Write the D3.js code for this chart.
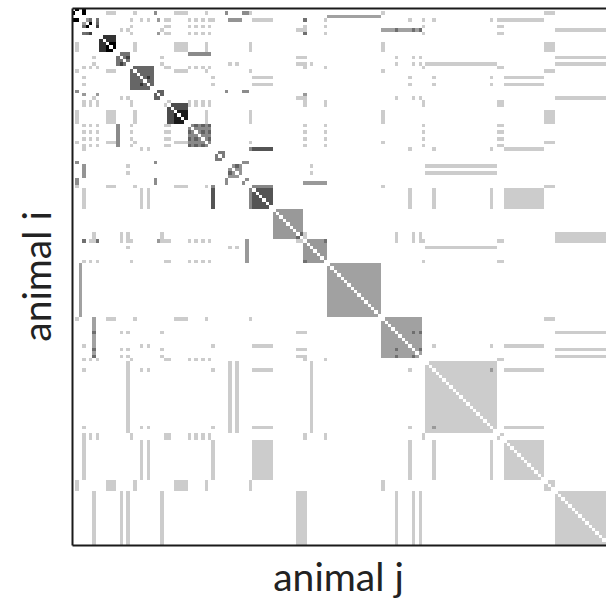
<!DOCTYPE html>
<html>
<head>
  <meta charset="utf-8">
  <title>Animal association matrix</title>
  <script src="https://d3js.org/d3.v7.min.js"></script>
  <style>
    body { margin: 0; background: #fff; }
    .label { font-family: Lato, "Open Sans", sans-serif; font-size: 39px; fill: #222; }
    .frame path { stroke: #1a1a1a; stroke-width: 2px; }
    .cell { shape-rendering: crispEdges; }
  </style>
</head>
<body>
  <div id="chart"></div>
  <script>
    // number of animals (rows = animal i, columns = animal j)
    const nAnimals = 158;

    // groups of animals: members ([a, b] means animals a..b)
    // a pair sharing a group gets that group's weight (weights add up)
    const groupZ = [0, 1, 3];
    const groupW = [3, 4, 5];
    const groupV = [4, 5, 7];
    const groupB = [[8, 12]];
    const groupC = [[13, 16]];
    const groupD = [[17, 23]];
    const groupE = [24, 25, 26];
    const groupF = [[28, 33]];
    const groupG = [13, [34, 40]];
    const groupH = [42, 43, 44];
    const groupI = [3, [46, 49]];
    const groupJ = [41, [52, 58]];
    const groupK = [[59, 67]];
    const groupL = [51, [68, 74]];
    const groupM = [2, [75, 90]];
    const groupN = [6, [91, 102]];
    const groupO = [16, 46, 48, 70, [104, 124]];
    const groupP = [3, 20, 22, 41, [53, 58], 99, 106, 123, [127, 138]];
    const groupQ = [1, [10, 12], 18, [30, 33], 39, 52, 91, [139, 141]];
    const groupR = [6, 14, 16, 26, 66, 67, 68, 95, 100, 102, [142, 157]];
    const groupS = [1, 24, 45, 50, 51];
    const groupT = [3, 5, 7, 17, 27, 28, 34, 36, 38, 40, 68, 74, 103, 125, 126];
    const groupU = [3, 7, 25, 68];

    const groupList = [groupZ, groupW, groupV, groupB, groupC, groupD, groupE, groupF, groupG,
      groupH, groupI, groupJ, groupK, groupL, groupM, groupN, groupO, groupP, groupQ,
      groupR, groupS, groupT, groupU];
    const groupWeights = [1.0, 0.4, 0.6, 0.8, 0.55, 0.6, 0.62, 0.7, 0.46,
      0.52, 0.42, 0.47, 0.4, 0.4, 0.37, 0.37, 0.2, 0.2, 0.2,
      0.2, 0.45, 0.16, 0.4];

    const expand = g => g.flatMap(m => Array.isArray(m) ? d3.range(m[0], m[1] + 1) : [m]);

    // build the association matrix
    const matrix = d3.range(nAnimals).map(() => new Array(nAnimals).fill(0));
    groupList.forEach(function(g, k) {
      const ids = expand(g);
      ids.forEach(function(a) {
        ids.forEach(function(b) {
          if (a !== b) matrix[a][b] += groupWeights[k];
        });
      });
    });

    const cells = [];
    matrix.forEach(function(row, i) {
      row.forEach(function(v, j) {
        if (v > 0) cells.push({ i: i, j: j, v: Math.min(Math.max(v, 0.2), 1) });
      });
    });

    // chart dimensions
    const margin = { top: 8, left: 72 };
    const size = 537;

    const svg = d3.select("#chart")
      .append("svg")
      .attr("width", 606)
      .attr("height", 600);

    const g = svg.append("g")
      .attr("transform", "translate(" + margin.left + "," + margin.top + ")");

    const x = d3.scaleBand().domain(d3.range(nAnimals)).range([0, size]);
    const y = d3.scaleBand().domain(d3.range(nAnimals)).range([0, size]);
    const color = d3.scaleLinear().domain([0, 1]).range(["#ffffff", "#000000"]).clamp(true);

    // snap cell edges to whole pixels so neighbouring cells join without seams
    const x0 = d => Math.round(x(d.j));
    const x1 = d => Math.round(x(d.j) + x.bandwidth());
    const y0 = d => Math.round(y(d.i));
    const y1 = d => Math.round(y(d.i) + y.bandwidth());

    g.selectAll(".cell")
      .data(cells)
      .enter()
      .append("rect")
      .attr("class", "cell")
      .attr("x", x0)
      .attr("y", y0)
      .attr("width", d => x1(d) - x0(d))
      .attr("height", d => y1(d) - y0(d))
      .attr("fill", d => color(d.v));

    // frame (axes without ticks)
    g.append("g").attr("class", "frame")
      .call(d3.axisLeft(y).tickValues([]).tickSizeOuter(0));
    g.append("g").attr("class", "frame")
      .call(d3.axisTop(x).tickValues([]).tickSizeOuter(0));
    g.append("g").attr("class", "frame")
      .attr("transform", "translate(0," + size + ")")
      .call(d3.axisBottom(x).tickValues([]).tickSizeOuter(0));
    g.append("g").attr("class", "frame")
      .attr("transform", "translate(" + size + ",0)")
      .call(d3.axisRight(y).tickValues([]).tickSizeOuter(0));

    // axis labels
    svg.append("text")
      .attr("class", "label")
      .attr("x", margin.left + size / 2 - 2)
      .attr("y", 591)
      .attr("text-anchor", "middle")
      .text("animal j");

    svg.append("text")
      .attr("class", "label")
      .attr("transform", "translate(51," + (margin.top + size / 2) + ") rotate(-90)")
      .attr("text-anchor", "middle")
      .text("animal i");
  </script>
</body>
</html>
